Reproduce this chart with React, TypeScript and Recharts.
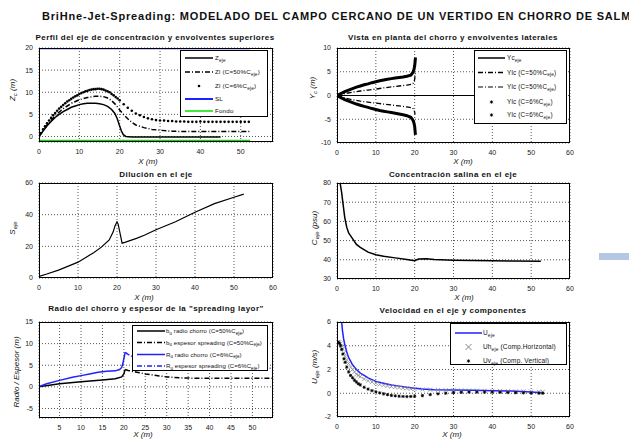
import React from "react";
import { ComposedChart, Line, XAxis, YAxis, CartesianGrid } from "recharts";

const FONT = '"Liberation Sans", Arial, Helvetica, sans-serif';
const DASHDOT = "5 2 1 2";

type P = [number, number];
const pts = (a: P[]) => a.map(([x, y]) => ({ x, y }));

// ---- Perfil del eje (Z) ----
const zcEje: P[] = [[0,0],[1,1.2],[2,2.4],[3,3.4],[4,4.3],[5,5.0],[6,5.6],[7,6.1],[8,6.6],[9,6.9],[10,7.2],[11,7.4],[12,7.5],[13,7.5],[14,7.5],[15,7.4],[16,7.2],[17,6.8],[18,6.1],[18.8,5.2],[19.4,4.0],[19.9,2.6],[20.4,1.3],[20.9,0.4],[21.5,0],[23,-0.1],[30,-0.1],[45,-0.1]];
const zl50: P[] = [[0,0],[2,2.6],[4,4.7],[6,6.3],[8,7.5],[10,8.3],[12,8.8],[14,9.1],[15,9.1],[16,9.0],[17,8.7],[18,8.1],[19,7.2],[20,6.0],[21,4.9],[22,4.0],[23,3.2],[24,2.6],[26,2.0],[28,1.6],[30,1.4],[33,1.2],[36,1.1],[40,1.1],[45,1.1],[50,1.1],[52.3,1.1]];
const zl6: P[] = [[0,0],[0.5,0.8],[1,1.6],[1.5,2.3],[2,3.0],[2.5,3.6],[3,4.2],[3.5,4.8],[4,5.3],[4.5,5.8],[5,6.3],[5.5,6.7],[6,7.1],[6.5,7.5],[7,7.9],[7.5,8.2],[8,8.5],[8.5,8.8],[9,9.1],[9.5,9.3],[10,9.6],[10.5,9.8],[11,10.0],[11.5,10.2],[12,10.3],[12.5,10.5],[13,10.6],[13.5,10.7],[14,10.7],[14.5,10.8],[15,10.8],[15.5,10.7],[16,10.6],[16.5,10.4],[17,10.2],[17.5,10.0],[18,9.6],[18.5,9.3],[19,8.9],[19.5,8.6],[20,8.2],[21,7.3],[22,6.5],[23,5.8],[24,5.2],[25,4.8],[26,4.4],[27,4.1],[28,3.9],[29,3.7],[30,3.6],[31,3.6],[32,3.5],[33,3.5],[34,3.4],[35,3.4],[36,3.4],[37,3.3],[38,3.3],[39,3.3],[40,3.4],[41,3.3],[42,3.3],[43,3.3],[44,3.3],[45,3.3],[46,3.3],[47,3.3],[48,3.3],[49,3.3],[50,3.3],[51,3.3],[52,3.3]];
const sl: P[] = [[0,20],[52.3,20]];
const fondo: P[] = [[0,-0.9],[52.3,-0.9]];

// ---- Vista en planta (Y) ----
const ycEje: P[] = [[0,0],[52,0]];
const yl50Up: P[] = [[0,0],[2,0.4],[4,0.7],[6,0.95],[8,1.15],[10,1.35],[12,1.6],[14,1.8],[16,2.0],[18,2.2],[19.5,2.4],[19.8,2.8],[20,3.4],[20.1,4.2],[20.2,5.0]];
const yl50Dn: P[] = [[0,0],[2,-0.5],[4,-0.9],[6,-1.2],[8,-1.4],[10,-1.6],[12,-1.8],[14,-2.0],[16,-2.2],[18,-2.4],[19.5,-2.6],[19.8,-3.0],[20,-3.5],[20.1,-4.0]];
const yl6Up: P[] = [[0,0],[1,0.4],[2,0.8],[3,1.15],[4,1.45],[5,1.75],[6,2.0],[7,2.25],[8,2.45],[9,2.7],[10,2.9],[11,3.1],[12,3.25],[13,3.4],[14,3.55],[15,3.7],[16,3.8],[17,3.9],[18,4.05],[19,4.3],[19.5,4.8],[19.8,5.4],[20,6.2],[20.1,7.0],[20.2,8.0]];
const yl6Dn: P[] = [[0,0],[1,-0.45],[2,-0.85],[3,-1.2],[4,-1.5],[5,-1.8],[6,-2.05],[7,-2.3],[8,-2.5],[9,-2.75],[10,-2.95],[11,-3.15],[12,-3.3],[13,-3.45],[14,-3.6],[15,-3.75],[16,-3.9],[17,-4.05],[18,-4.25],[19,-4.6],[19.5,-5.1],[19.8,-5.7],[20,-6.5],[20.1,-7.4],[20.2,-8.3]];

// ---- Dilucion ----
const dilucion: P[] = [[0,1],[2,2.5],[5,5],[8,8],[10,10],[12,13],[14,16],[16,19.5],[18,24],[19,29],[19.5,33],[20,35.5],[20.3,34],[20.8,28],[21.3,22],[22,22.5],[25,25],[27,27],[30,30.5],[35,35.5],[40,41.5],[45,47],[50,51],[52.5,53]];

// ---- Concentracion salina ----
const concentracion: P[] = [[0.8,80],[1.2,75],[1.5,70],[2,62],[2.5,57],[3,54],[4,51],[5,48],[6,46.5],[8,44],[10,42.6],[12,41.8],[15,41],[18,40.2],[20,39.5],[21,40.4],[23,40.6],[25,40.2],[30,39.8],[35,39.6],[40,39.5],[45,39.4],[52.5,39.3]];

// ---- Radio / espesor ----
const bRadio: P[] = [[0,0],[5,0.7],[10,1.2],[15,1.6],[18,1.9],[19.5,2.3],[20,3.0],[20.3,4.0]];
const bEspesor: P[] = [[20.3,4.0],[21,3.8],[23,3.4],[25,3.0],[27,2.7],[30,2.3],[33,2.1],[36,2.0],[40,2.0],[45,2.0],[50,2.0],[54.7,2.0]];
const rRadio: P[] = [[0,0],[2,0.7],[5,1.5],[8,2.2],[10,2.6],[12,3.0],[14,3.4],[16,3.6],[18,3.7],[19,4.0],[19.5,4.5],[19.8,5.5],[20,6.5],[20.2,7.5],[20.3,8]];
const rEspesor: P[] = [[20.3,8],[21,7.5],[23,6.5],[26,5.6],[30,5.1],[35,4.8],[40,4.6],[45,4.5],[50,4.4],[54.7,4.3]];

// ---- Velocidad ----
const uEje: P[] = [[1.2,6],[1.4,5.3],[1.7,4.6],[2,4.1],[2.5,3.5],[3,3.0],[3.5,2.7],[4,2.4],[5,2.0],[6,1.7],[7,1.5],[8,1.3],[9,1.15],[10,1.0],[12,0.85],[14,0.7],[16,0.6],[18,0.5],[20,0.42],[22,0.35],[25,0.3],[30,0.28],[35,0.25],[40,0.22],[45,0.18],[50,0.1],[53,0.05]];
const uhX = [0.3,0.6,0.9,1.2,1.5,1.8,2.1,2.5,3,3.5,4,4.5,5,5.5,6,7,8,9,10,11,12,13,14,15,16,17,18,19,20,22,24,26,28,30,32,34,36,38,40,42,44,46,48,50,52,53];
const uhY = [4.3,4.3,4.2,4.0,3.7,3.4,3.1,2.8,2.5,2.2,2.0,1.8,1.6,1.5,1.4,1.2,1.05,0.95,0.85,0.75,0.68,0.62,0.56,0.52,0.48,0.44,0.41,0.38,0.35,0.32,0.3,0.28,0.26,0.25,0.24,0.23,0.22,0.21,0.2,0.19,0.18,0.17,0.16,0.15,0.13,0.12];
const uvY = [4.3,4.2,4.0,3.7,3.3,2.9,2.6,2.2,1.8,1.5,1.3,1.1,0.95,0.8,0.7,0.5,0.35,0.22,0.12,0.03,-0.05,-0.12,-0.18,-0.22,-0.25,-0.27,-0.28,-0.27,-0.25,-0.2,-0.12,-0.05,0,0.05,0.08,0.1,0.1,0.1,0.1,0.08,0.06,0.05,0.03,0.02,0,0];

const tickStyle = { fontSize: 7, fill: "#222" };

type Box = { x: number; y: number; w: number; h: number };

function Panel({ box, xDomain, xTicks, yDomain, yTicks, children }: any) {
  const YW = 30, TM = 4, RM = 4, XH = 20;
  return (
    <div style={{ position: "absolute", left: box.x - YW, top: box.y - TM }}>
      <ComposedChart width={box.w + YW + RM} height={box.h + TM + XH} margin={{ top: TM, right: RM, left: 0, bottom: 0 }}>
        <CartesianGrid stroke="#555" strokeDasharray="1 2" />
        <XAxis type="number" dataKey="x" domain={xDomain} ticks={xTicks} allowDataOverflow interval={0} height={XH}
          tickLine={false} axisLine={false} tick={tickStyle} tickSize={6} tickMargin={1} />
        <YAxis type="number" dataKey="y" domain={yDomain} ticks={yTicks} allowDataOverflow interval={0} width={YW}
          tickLine={false} axisLine={false} tick={tickStyle} tickSize={6} tickMargin={0} />
        {children}
      </ComposedChart>
      <div style={{ position: "absolute", left: YW, top: TM, width: box.w, height: box.h, border: "1px solid #000", boxSizing: "border-box", pointerEvents: "none" }} />
    </div>
  );
}

const dotShape = (p: any) => <circle key={p.index} cx={p.cx} cy={p.cy} r={1.3} fill="#000" />;
const crossShape = (p: any) => (
  <path key={p.index} d={`M${p.cx - 2},${p.cy - 2}L${p.cx + 2},${p.cy + 2}M${p.cx - 2},${p.cy + 2}L${p.cx + 2},${p.cy - 2}`} stroke="#888" strokeWidth={0.8} fill="none" />
);
const starShape = (p: any) => (
  <path key={p.index} d={`M${p.cx - 1.6},${p.cy}L${p.cx + 1.6},${p.cy}M${p.cx},${p.cy - 1.6}L${p.cx},${p.cy + 1.6}M${p.cx - 1.2},${p.cy - 1.2}L${p.cx + 1.2},${p.cy + 1.2}M${p.cx - 1.2},${p.cy + 1.2}L${p.cx + 1.2},${p.cy - 1.2}`} stroke="#000" strokeWidth={0.9} fill="none" />
);

function ln(data: P[], stroke: string, width: number, dash?: string) {
  return <Line data={pts(data)} dataKey="y" type="linear" stroke={stroke} strokeWidth={width} strokeDasharray={dash} dot={false} activeDot={false} isAnimationActive={false} />;
}
function mk(data: any[], shape: any) {
  return <Line data={data} dataKey="y" type="linear" stroke="none" strokeWidth={0} dot={shape} activeDot={false} isAnimationActive={false} />;
}

function Txt({ x, y, size = 8, bold, italic, rotate, children, align = "center", ls = 0 }: any) {
  const tx = align === "center" ? "-50%" : "0";
  return (
    <div style={{ position: "absolute", left: x, top: y, transform: `translate(${tx},-50%)${rotate ? ` rotate(${rotate}deg)` : ""}`, fontSize: size, fontWeight: bold ? "bold" : "normal", fontStyle: italic ? "italic" : "normal", letterSpacing: ls, whiteSpace: "nowrap", lineHeight: 1, color: "#111" }}>
      {children}
    </div>
  );
}

const Sub = ({ children }: any) => <span style={{ fontSize: "0.75em", position: "relative", top: "0.35em" }}>{children}</span>;

type Entry = { label: any; stroke?: string; width?: number; dash?: string; marker?: "dot" | "cross" | "star" };

function LegendBox({ x, y, w, h, rows, sx0, sx1, tx, fs, ls, entries }: { x: number; y: number; w: number; h: number; rows: number[]; sx0: number; sx1: number; tx: number; fs: number; ls: number; entries: Entry[] }) {
  return (
    <div style={{ position: "absolute", left: x, top: y, width: w, height: h, background: "#fff", border: "1px solid #000", boxSizing: "border-box" }}>
      <svg width={w} height={h} style={{ position: "absolute", left: -1, top: -1 }}>
        {entries.map((e, i) => {
          const cy = rows[i] - y;
          const cx = (sx0 + sx1) / 2 - x;
          if (e.marker === "dot") return <circle key={i} cx={cx} cy={cy} r={1.3} fill="#000" />;
          if (e.marker === "cross") return <path key={i} d={`M${cx - 3},${cy - 3}L${cx + 3},${cy + 3}M${cx - 3},${cy + 3}L${cx + 3},${cy - 3}`} stroke="#666" strokeWidth={0.8} />;
          if (e.marker === "star") return starShape({ index: i, cx, cy });
          return <line key={i} x1={sx0 - x} x2={sx1 - x} y1={cy} y2={cy} stroke={e.stroke} strokeWidth={e.width} strokeDasharray={e.dash} />;
        })}
      </svg>
      {entries.map((e, i) => (
        <div key={i} style={{ position: "absolute", left: tx - x - 1, top: rows[i] - y - 1, transform: "translateY(-50%)", fontSize: fs, letterSpacing: ls, lineHeight: 1, whiteSpace: "nowrap", color: "#111" }}>{e.label}</div>
      ))}
    </div>
  );
}

const B1: Box = { x: 39, y: 48, w: 234, h: 94 };
const B2: Box = { x: 337, y: 48, w: 233, h: 95 };
const B3: Box = { x: 39, y: 183, w: 234, h: 95 };
const B4: Box = { x: 337, y: 183, w: 233, h: 96 };
const B5: Box = { x: 39, y: 322, w: 234, h: 96 };
const B6: Box = { x: 337, y: 322, w: 233, h: 95 };

const uh = uhX.map((x, i) => ({ x, y: uhY[i] }));
const uv = uhX.map((x, i) => ({ x, y: uvY[i] }));

const TLS = 0.45;

export default function App() {
  return (
    <div style={{ position: "absolute", left: 0, top: 0, width: 629, height: 439, background: "#fff", overflow: "hidden", fontFamily: FONT }}>
      <Txt x={42} y={15.5} size={11} bold align="left" ls={0.82}>BriHne-Jet-Spreading: MODELADO DEL CAMPO CERCANO DE UN VERTIDO EN CHORRO DE SALMUERA</Txt>

      {/* Perfil */}
      <Panel box={B1} xDomain={[0, 58]} xTicks={[0, 10, 20, 30, 40, 50]} yDomain={[-1.25, 20]} yTicks={[0, 5, 10, 15, 20]}>
        {ln(fondo, "#00e000", 1.5)}
        {ln(sl, "#2020ff", 2.5)}
        {ln(zcEje, "#000", 1.5)}
        {ln(zl50, "#000", 1.5, DASHDOT)}
        {mk(pts(zl6), dotShape)}
      </Panel>
      <Txt x={155} y={38} bold ls={TLS}>Perfil del eje de concentración y envolventes superiores</Txt>
      <Txt x={148} y={162} italic>X (m)</Txt>
      <Txt x={13} y={90} rotate={-90} italic>Z<Sub>c</Sub> (m)</Txt>
      <LegendBox x={180} y={50} w={88} h={67} rows={[58, 72, 86, 99, 111]} sx0={185} sx1={213} tx={215} fs={6.2} ls={0.2}
        entries={[
          { label: <>Z<Sub>eje</Sub></>, stroke: "#000", width: 1.5 },
          { label: <>Zl (C=50%C<Sub>eje</Sub>)</>, stroke: "#000", width: 1.5, dash: DASHDOT },
          { label: <>Zl (C=6%C<Sub>eje</Sub>)</>, marker: "dot" },
          { label: "SL", stroke: "#2020ff", width: 2 },
          { label: "Fondo", stroke: "#00e000", width: 1.5 },
        ]} />

      {/* Vista en planta */}
      <Panel box={B2} xDomain={[0, 60]} xTicks={[0, 10, 20, 30, 40, 50, 60]} yDomain={[-10, 10]} yTicks={[-10, -5, 0, 5, 10]}>
        {ln(ycEje, "#000", 1.2)}
        {ln(yl50Up, "#000", 1.3, DASHDOT)}
        {ln(yl50Dn, "#000", 1.3, DASHDOT)}
        {ln(yl6Up, "#000", 3)}
        {ln(yl6Dn, "#000", 3)}
      </Panel>
      <Txt x={453} y={38} bold ls={TLS}>Vista en planta del chorro y envolventes laterales</Txt>
      <Txt x={463} y={162} italic>X (m)</Txt>
      <Txt x={313} y={88} rotate={-90} italic>Y<Sub>c</Sub> (m)</Txt>
      <LegendBox x={474} y={50} w={93} h={74} rows={[58, 72.5, 87, 102, 115]} sx0={478} sx1={505} tx={507} fs={6.3} ls={0.2}
        entries={[
          { label: <>Yc<Sub>eje</Sub></>, stroke: "#000", width: 1.5 },
          { label: <>Ylc (C=50%C<Sub>eje</Sub>)</>, stroke: "#000", width: 1.6, dash: DASHDOT },
          { label: <>Ylc (C=50%C<Sub>eje</Sub>)</>, stroke: "#000", width: 1, dash: DASHDOT },
          { label: <>Ylc (C=6%C<Sub>eje</Sub>)</>, marker: "star" },
          { label: <>Ylc (C=6%C<Sub>eje</Sub>)</>, marker: "star" },
        ]} />

      {/* Dilucion */}
      <Panel box={B3} xDomain={[0, 60]} xTicks={[0, 10, 20, 30, 40, 50, 60]} yDomain={[0, 60]} yTicks={[0, 20, 40, 60]}>
        {ln(dilucion, "#000", 1.2)}
      </Panel>
      <Txt x={156} y={175} bold ls={TLS}>Dilución en el eje</Txt>
      <Txt x={144} y={298} italic>X (m)</Txt>
      <Txt x={13} y={228} rotate={-90} italic>S<Sub>eje</Sub></Txt>

      {/* Concentracion */}
      <Panel box={B4} xDomain={[0, 60]} xTicks={[0, 10, 20, 30, 40, 50, 60]} yDomain={[30, 80]} yTicks={[30, 40, 50, 60, 70, 80]}>
        {ln(concentracion, "#000", 1.5)}
      </Panel>
      <Txt x={453} y={175} bold ls={TLS}>Concentración salina en el eje</Txt>
      <Txt x={464} y={298} italic>X (m)</Txt>
      <Txt x={315} y={228} rotate={-90} italic>C<Sub>eje</Sub> (psu)</Txt>

      {/* Radio / espesor */}
      <Panel box={B5} xDomain={[0.2, 54.8]} xTicks={[5, 10, 15, 20, 25, 30, 35, 40, 45, 50]} yDomain={[-7.2, 15]} yTicks={[-5, 0, 5, 10, 15]}>
        {ln(bEspesor, "#000", 1.5, DASHDOT)}
        {ln(rEspesor, "#2020ff", 1.5, DASHDOT)}
        {ln(bRadio, "#000", 1.5)}
        {ln(rRadio, "#2020ff", 1.5)}
      </Panel>
      <Txt x={156} y={309} bold ls={TLS}>Radio del chorro y espesor de la "spreading layor"</Txt>
      <Txt x={143} y={435} italic>X (m)</Txt>
      <Txt x={17} y={372} rotate={-90} italic>Radio / Espesor (m)</Txt>
      <LegendBox x={132} y={325} w={136} h={46} rows={[331, 342.5, 354.5, 366]} sx0={137} sx1={165} tx={166} fs={6} ls={0.1}
        entries={[
          { label: <>b<Sub>u</Sub> radio chorro (C=50%C<Sub>eje</Sub>)</>, stroke: "#000", width: 1.5 },
          { label: <>b<Sub>u</Sub> espesor spreading (C=50%C<Sub>eje</Sub>)</>, stroke: "#000", width: 1.5, dash: DASHDOT },
          { label: <>R<Sub>u</Sub> radio chorro (C=6%C<Sub>eje</Sub>)</>, stroke: "#2020ff", width: 1.5 },
          { label: <>R<Sub>u</Sub> espesor spreading (C=6%C<Sub>eje</Sub>)</>, stroke: "#2020ff", width: 1.5, dash: DASHDOT },
        ]} />

      {/* Velocidad */}
      <Panel box={B6} xDomain={[0, 60]} xTicks={[0, 10, 20, 30, 40, 50, 60]} yDomain={[-2, 6]} yTicks={[-2, 0, 2, 4, 6]}>
        {mk(uh, crossShape)}
        {mk(uv, starShape)}
        {ln(uEje, "#2020ff", 1.5)}
      </Panel>
      <Txt x={453} y={311} bold ls={TLS}>Velocidad en el eje y componentes</Txt>
      <Txt x={452} y={435} italic>X (m)</Txt>
      <Txt x={315} y={367} rotate={-90} italic>U<Sub>eje</Sub> (m/s)</Txt>
      <LegendBox x={450} y={323} w={117} h={42} rows={[333, 347, 361]} sx0={455} sx1={482} tx={483} fs={6.5} ls={0.15}
        entries={[
          { label: <>U<Sub>eje</Sub></>, stroke: "#2020ff", width: 1.5 },
          { label: <>Uh<Sub>eje</Sub> (Comp.Horizontal)</>, marker: "cross" },
          { label: <>Uv<Sub>eje</Sub> (Comp. Vertical)</>, marker: "star" },
        ]} />

      <div style={{ position: "absolute", left: 599, top: 253, width: 30, height: 7, background: "#b4c8e4" }} />
    </div>
  );
}
